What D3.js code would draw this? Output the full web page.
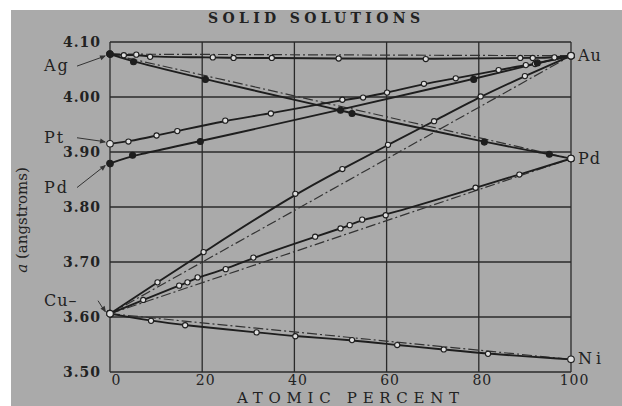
<!DOCTYPE html>
<html>
<head>
<meta charset="utf-8">
<script src="https://cdn.jsdelivr.net/npm/d3@7"></script>
<style>
  body { margin: 0; background: #fff; }
  svg { display: block; }
  text { font-family: "DejaVu Serif", "Liberation Serif", serif; fill: #222; }
</style>
</head>
<body>
<script>
// tick values
var pctTicks = [0, 20, 40, 60, 80, 100];
var aTicks = [3.50, 3.60, 3.70, 3.80, 3.90, 4.00, 4.10];

// measured lattice parameter (angstroms) vs atomic percent of the second metal
var agAu = [[0,4.078],[3.0,4.076],[5.7,4.077],[8.7,4.073],[22.3,4.072],[26.8,4.071],[35.1,4.071],[49.6,4.070],[68.5,4.069],[89,4.071],[91.7,4.071],[96.4,4.072],[100,4.075]];
var agPd = [[0,4.078],[5.1,4.064],[20.7,4.032],[50,3.976],[52.5,3.970],[81.2,3.918],[95.3,3.896],[100,3.888]];
var ptAu = [[0,3.915],[4.0,3.919],[10.1,3.930],[14.6,3.938],[25,3.957],[34.9,3.970],[50.4,3.995],[54.9,3.999],[60.1,4.008],[68.1,4.024],[75,4.034],[84.3,4.049],[90.2,4.058],[92.2,4.060],[100,4.075]];
var pdAu = [[0,3.879],[4.9,3.894],[19.6,3.919],[78.9,4.032],[92.7,4.062],[100,4.075]];
var cuAu = [[0,3.606],[10.3,3.663],[20.3,3.718],[40.2,3.824],[50.4,3.869],[60.3,3.913],[70.3,3.956],[80.4,4.001],[90,4.038],[100,4.075]];
var cuPd = [[0,3.606],[7.2,3.631],[15,3.657],[16.8,3.663],[19,3.672],[25.1,3.687],[31.1,3.708],[44.5,3.746],[50,3.761],[52,3.767],[54.7,3.777],[59.8,3.785],[79.3,3.835],[88.8,3.859],[100,3.888]];
var cuNi = [[0,3.606],[8.9,3.593],[16.3,3.585],[31.8,3.572],[40.2,3.565],[52.5,3.558],[62.3,3.549],[72.4,3.541],[82,3.533],[100,3.523]];

var series = [
  {data: agAu, filled: false, vegard: true},
  {data: agPd, filled: true,  vegard: true},
  {data: ptAu, filled: false, vegard: false},
  {data: pdAu, filled: true,  vegard: false},
  {data: cuAu, filled: false, vegard: true},
  {data: cuPd, filled: false, vegard: true},
  {data: cuNi, filled: false, vegard: true}
];

// element names at the ends of the lines
var leftNames = ["Ag", "Pt", "Pd", "Cu\u2013"];
var leftValues = [agAu[0][1], ptAu[0][1], pdAu[0][1], cuAu[0][1]];
var rightNames = ["Au", "Pd", "Ni"];
var rightValues = [4.075, 3.888, 3.523];

var W = 622, H = 406;
var margin = {top: 42, right: 51, bottom: 34, left: 110},
    width = W - margin.left - margin.right,
    height = H - margin.top - margin.bottom;

var x = d3.scaleLinear().domain([0, 100]).range([0, width]);
var y = d3.scaleLinear().domain([3.5, 4.1]).range([height, 0]);

var svg = d3.select("body").append("svg")
    .attr("width", W).attr("height", H);

// scanned page
svg.append("rect").attr("x", 11).attr("y", 10)
    .attr("width", W - 11).attr("height", H - 10).attr("fill", "#aaaaaa");

var g = svg.append("g")
    .attr("transform", "translate(" + margin.left + "," + margin.top + ")");

// grid
g.append("g").selectAll("line").data(pctTicks).enter().append("line")
    .attr("x1", d => x(d)).attr("x2", d => x(d))
    .attr("y1", 0).attr("y2", height)
    .attr("stroke", "#2a2a2a").attr("stroke-width", 1.3);
g.append("g").selectAll("line").data(aTicks).enter().append("line")
    .attr("x1", 0).attr("x2", width)
    .attr("y1", d => y(d)).attr("y2", d => y(d))
    .attr("stroke", "#2a2a2a").attr("stroke-width", 1.3);

// axes (labels only)
var xAxis = d3.axisBottom(x).tickValues(pctTicks).tickSize(0).tickPadding(3)
    .tickFormat(d3.format("d"));
var yAxis = d3.axisLeft(y).tickValues(aTicks).tickSize(0).tickPadding(9)
    .tickFormat(d3.format(".2f"));

g.append("g").attr("transform", "translate(0," + height + ")").call(xAxis)
  .call(s => s.select(".domain").remove())
  .selectAll("text").attr("font-size", 14).attr("fill", "#2a2a2a")
    .attr("font-family", "DejaVu Serif").attr("letter-spacing", 1)
    .attr("dx", d => d == 0 ? 6 : 3);
g.append("g").call(yAxis)
  .call(s => s.select(".domain").remove())
  .selectAll("text").attr("font-size", 14).attr("font-weight", "bold").attr("fill", "#2a2a2a")
    .attr("font-family", "DejaVu Serif").attr("letter-spacing", 1);

// ideal (straight) lines, dash-dot
var straight = d3.line().x(d => x(d[0])).y(d => y(d[1]));
series.filter(s => s.vegard).forEach(function(s) {
  var ends = [s.data[0], s.data[s.data.length - 1]];
  g.append("path").attr("d", straight(ends))
    .attr("fill", "none").attr("stroke", "#333").attr("stroke-width", 1.2)
    .attr("stroke-dasharray", "10,3,2,3");
});

// measured curves
var curve = d3.line().x(d => x(d[0])).y(d => y(d[1])).curve(d3.curveBasis);
series.forEach(function(s) {
  g.append("path").attr("d", curve(s.data))
    .attr("fill", "none").attr("stroke", "#1e1e1e").attr("stroke-width", 1.9);
});

// points
series.forEach(function(s) {
  g.append("g").selectAll("circle").data(s.data).enter().append("circle")
    .attr("cx", d => x(d[0])).attr("cy", d => y(d[1]))
    .attr("r", (d, i) => (i == 0 || i == s.data.length - 1) ? 3.3 : (s.filled ? 3 : 2.6))
    .attr("fill", (d, i) => (s.filled && i < s.data.length - 1) ? "#1e1e1e" : "#dedede")
    .attr("stroke", "#1e1e1e").attr("stroke-width", 1.1);
});

// element labels on the left, with pointer arrows
var leftDy = [12, -6, 24, -13];
leftNames.forEach(function(name, i) {
  var py = y(leftValues[i]), ty = py + leftDy[i];
  g.append("text").attr("x", -66).attr("y", ty + 5)
    .attr("font-size", 16).attr("letter-spacing", name.indexOf("Cu") == 0 ? 1 : 2).text(name);
  var x0 = name.indexOf("Cu") == 0 ? -12 : -33;
  g.append("line").attr("x1", x0).attr("y1", ty).attr("x2", -5).attr("y2", py + (py < ty ? 2 : -2))
    .attr("stroke", "#333").attr("stroke-width", 1);
  var ang = Math.atan2(py - ty, -3 - x0);
  g.append("path")
    .attr("d", "M0,0 L-6,-2.5 L-6,2.5 Z")
    .attr("transform", "translate(-4," + (py + (py < ty ? 1.5 : -1.5)) + ") rotate(" + (ang * 180 / Math.PI) + ")")
    .attr("fill", "#333");
});

rightNames.forEach(function(name, i) {
  g.append("text").attr("x", width + 7).attr("y", y(rightValues[i]) + 5)
    .attr("font-size", 16).attr("letter-spacing", name == "Ni" ? 4 : 1).text(name);
});

// titles
svg.append("text").attr("x", 314).attr("y", 23).attr("text-anchor", "middle")
    .attr("font-size", 14).attr("font-weight", "bold")
    .attr("textLength", 212).attr("lengthAdjust", "spacing")
    .text("SOLID SOLUTIONS");
svg.append("text").attr("x", 348).attr("y", 403).attr("text-anchor", "middle")
    .attr("font-size", 15).attr("fill", "#2a2a2a")
    .attr("textLength", 222).attr("lengthAdjust", "spacing")
    .text("ATOMIC PERCENT");
var yl = svg.append("text").attr("transform", "translate(27,220) rotate(-90)")
    .attr("text-anchor", "middle").attr("font-size", 15).attr("fill", "#2a2a2a");
yl.append("tspan").attr("font-style", "italic").text("a");
yl.append("tspan").text(" (angstroms)");
</script>
</body>
</html>
